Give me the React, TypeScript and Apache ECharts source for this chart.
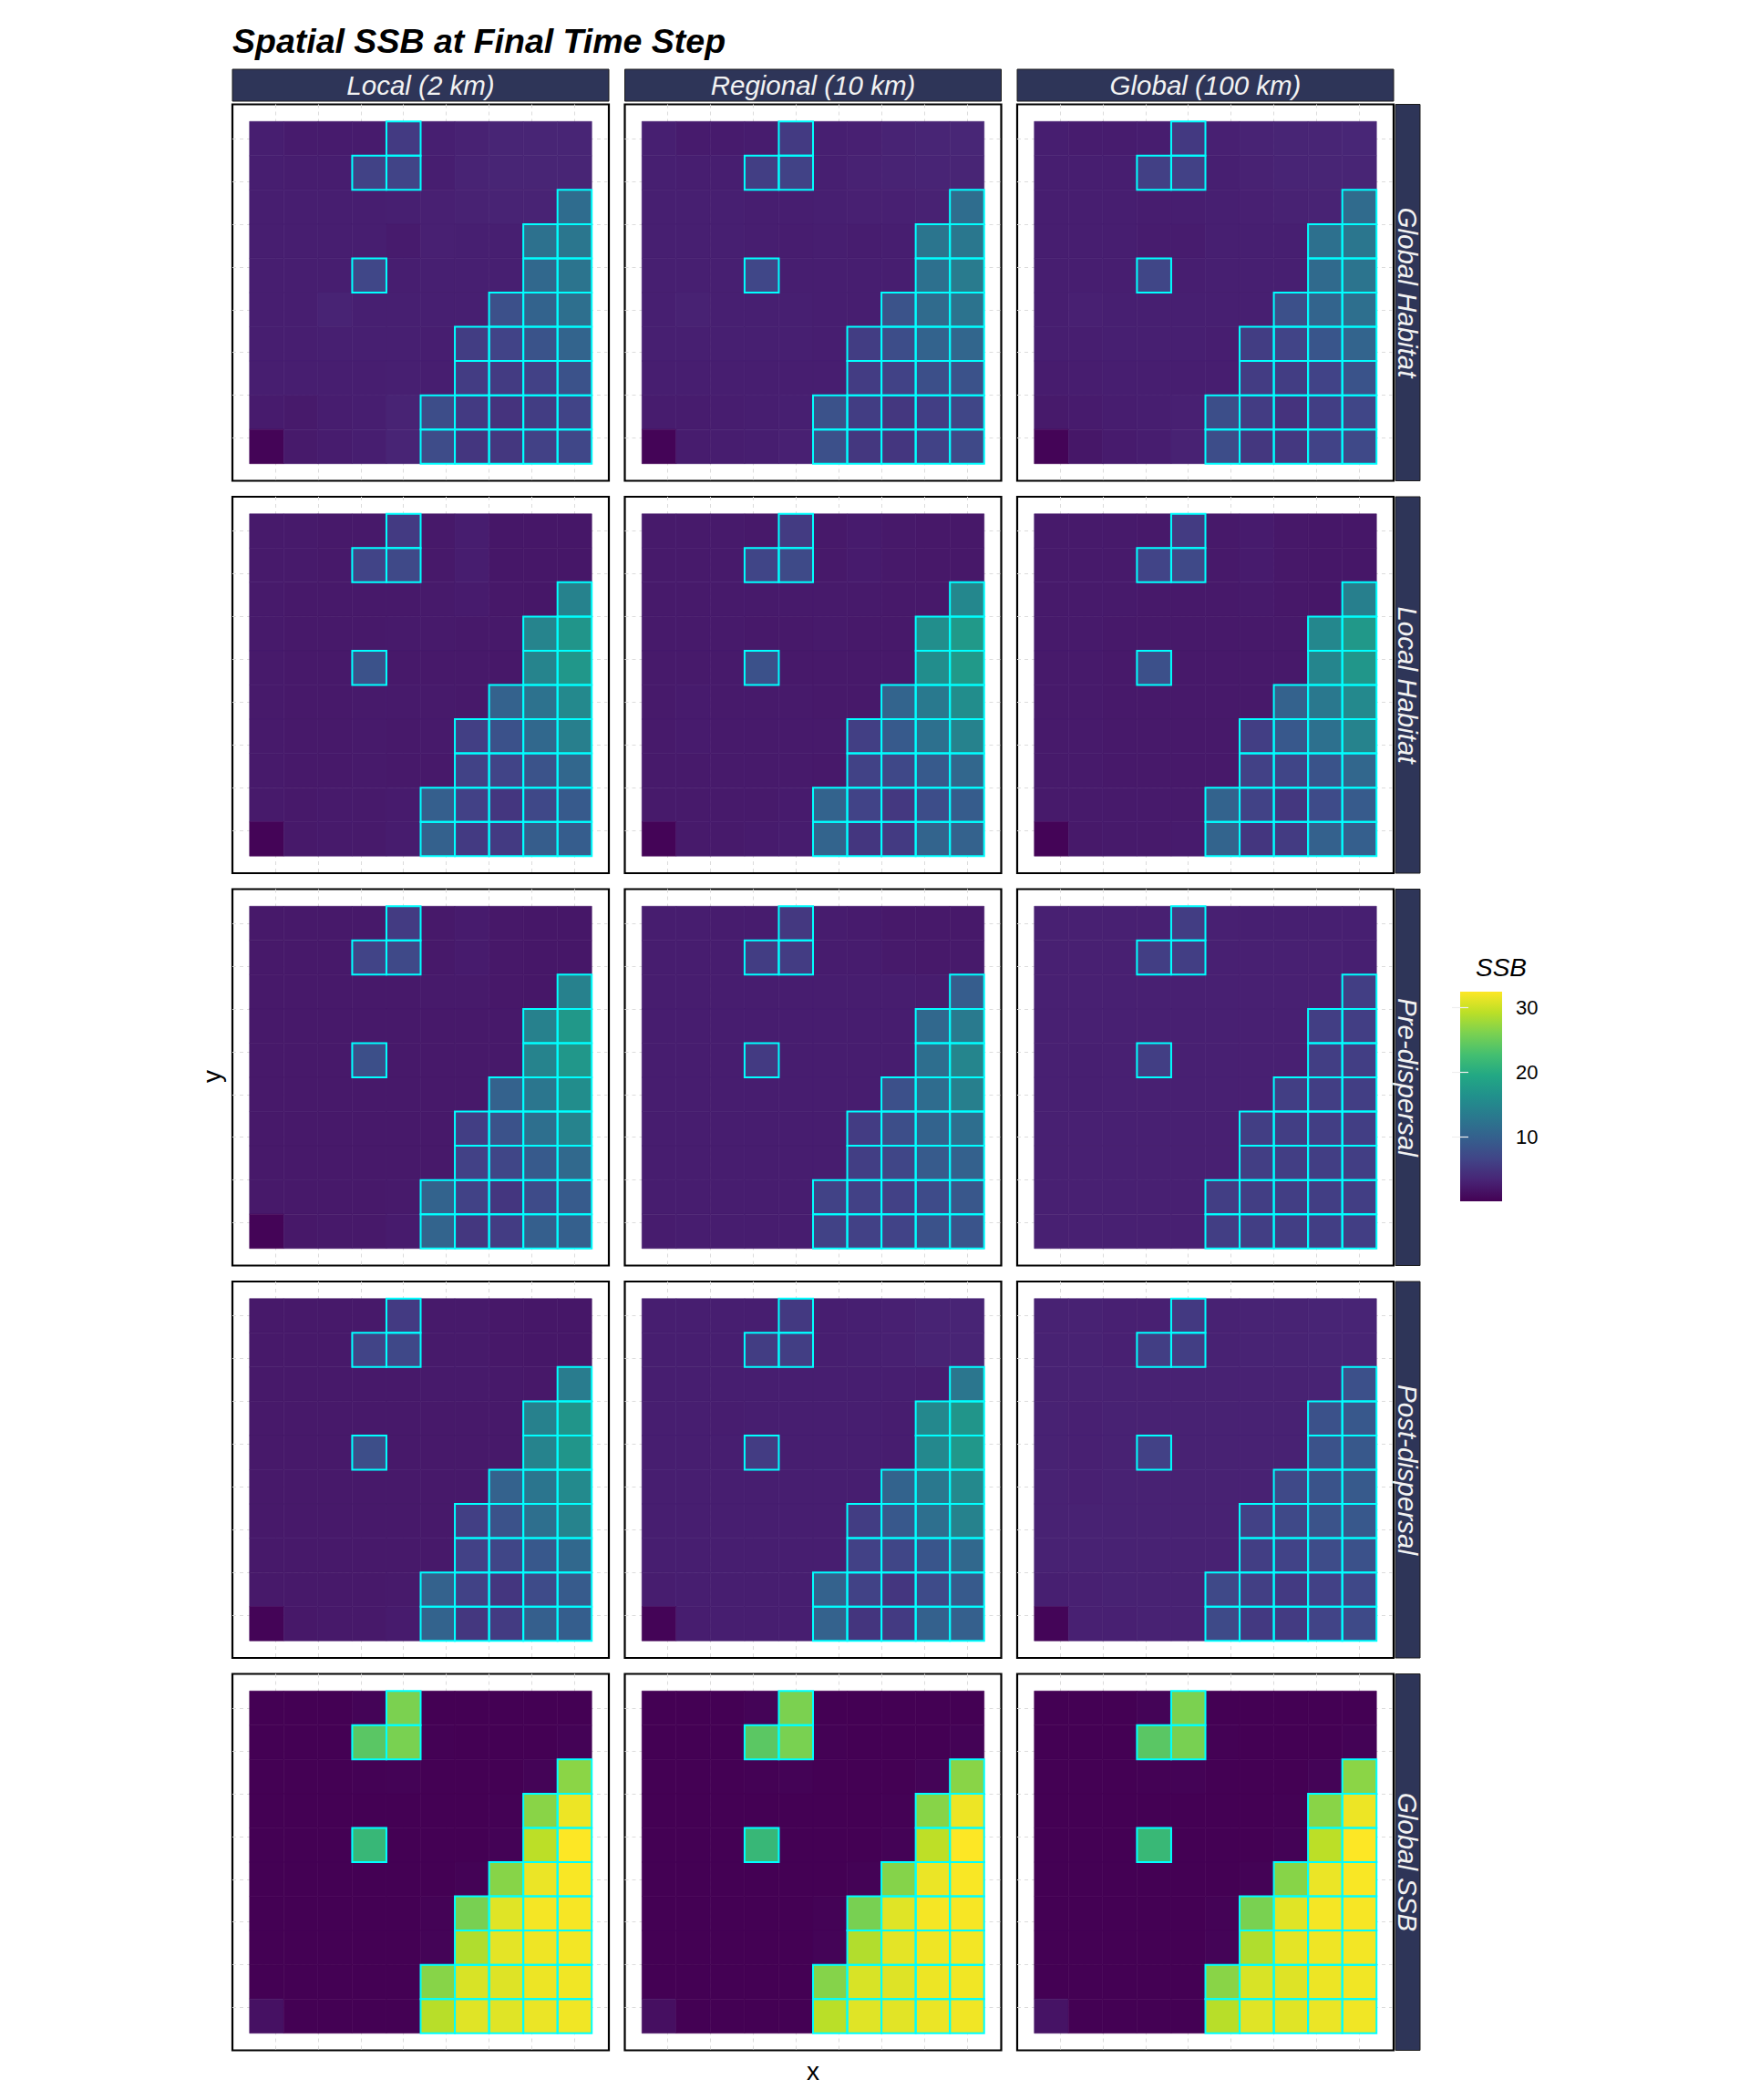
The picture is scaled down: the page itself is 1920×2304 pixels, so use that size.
import React, { useEffect, useRef } from "react";
import * as echarts from "echarts";

// ---------- labels ----------
const TITLE = "Spatial SSB at Final Time Step";
const COLUMN_LABELS = ["Local (2 km)", "Regional (10 km)", "Global (100 km)"];
const ROW_LABELS = ["Global Habitat", "Local Habitat", "Pre-dispersal", "Post-dispersal", "Global SSB"];
const LEGEND_TITLE = "SSB";
const LEGEND_TICKS = [10, 20, 30];
const SSB_MIN = 0.1;
const SSB_MAX = 32.4;
const GRID_BREAK = 1.25;

// habitat cells (top row y=10 first, x = 1..10)
const HABITAT = [
  "0000100000",
  "0001100000",
  "0000000001",
  "0000000011",
  "0001000011",
  "0000000111",
  "0000001111",
  "0000001111",
  "0000011111",
  "0000011111",
];

// ---------- SSB values per panel (top row y=10 first, x = 1..10) ----------
const GH_LOCAL = [
  [2.8, 2.5, 2.5, 2.5, 5.6, 2.9, 3.1, 3.4, 3.4, 3.4],
  [2.8, 2.7, 2.7, 6.4, 6.6, 2.8, 3.2, 3.4, 3.4, 3.4],
  [2.8, 2.8, 2.8, 2.8, 2.9, 3.0, 3.1, 3.2, 3.2, 11.5],
  [2.8, 2.8, 2.8, 2.8, 2.5, 3.0, 2.9, 2.9, 12.1, 12.8],
  [2.8, 2.8, 2.8, 6.9, 2.8, 2.9, 2.9, 2.9, 11.0, 12.5],
  [2.8, 2.8, 3.2, 2.9, 2.9, 2.9, 2.9, 8.0, 10.3, 11.8],
  [2.8, 2.8, 2.9, 2.9, 2.9, 2.8, 5.9, 6.5, 8.4, 10.4],
  [2.8, 2.8, 2.8, 2.8, 2.9, 2.8, 5.8, 5.7, 6.3, 8.2],
  [2.5, 2.4, 2.7, 2.8, 3.2, 7.6, 5.6, 4.8, 5.9, 6.6],
  [0.4, 2.4, 2.6, 2.8, 3.3, 7.5, 5.1, 5.2, 6.3, 6.9],
];
const GH_REGIONAL = [
  [2.9, 2.5, 2.5, 2.6, 5.6, 2.9, 3.0, 3.2, 3.4, 3.5],
  [2.9, 2.8, 2.8, 6.0, 6.4, 2.9, 3.1, 3.2, 3.3, 3.4],
  [2.9, 2.9, 2.9, 2.8, 2.8, 2.9, 3.0, 3.0, 3.1, 11.6],
  [2.9, 2.9, 2.9, 2.8, 2.7, 2.8, 2.7, 2.8, 12.6, 12.9],
  [2.9, 2.9, 2.9, 6.9, 2.8, 2.8, 2.8, 2.8, 12.0, 13.4],
  [2.9, 3.1, 2.9, 2.9, 2.9, 2.8, 2.8, 8.3, 11.3, 12.4],
  [2.9, 2.9, 2.9, 2.9, 2.9, 2.8, 5.9, 7.6, 10.3, 10.7],
  [2.8, 2.8, 2.8, 2.8, 2.8, 2.8, 5.8, 6.4, 7.9, 8.2],
  [2.6, 2.6, 2.7, 2.8, 2.9, 8.2, 5.9, 5.2, 6.0, 6.8],
  [0.4, 2.6, 2.7, 2.8, 3.0, 8.0, 5.2, 5.1, 6.4, 7.2],
];
const GH_GLOBAL = [
  [2.8, 2.6, 2.6, 2.7, 5.5, 3.0, 3.2, 3.4, 3.4, 3.5],
  [2.8, 2.8, 2.8, 6.2, 6.3, 2.9, 3.1, 3.3, 3.4, 3.4],
  [2.8, 2.8, 2.8, 2.7, 2.8, 2.9, 3.0, 3.1, 3.2, 11.3],
  [2.8, 2.8, 2.8, 2.6, 2.6, 2.9, 2.9, 2.9, 12.0, 12.8],
  [2.8, 2.8, 2.8, 6.8, 2.8, 2.9, 2.9, 2.9, 11.2, 12.5],
  [2.8, 3.0, 2.9, 2.9, 2.9, 2.9, 2.9, 8.0, 10.5, 11.8],
  [2.8, 2.8, 2.9, 2.9, 2.9, 2.8, 5.9, 6.6, 8.6, 10.5],
  [2.6, 2.7, 2.8, 2.8, 2.8, 2.8, 5.8, 5.9, 6.5, 8.4],
  [2.4, 2.5, 2.7, 2.8, 3.0, 7.8, 5.8, 4.8, 6.0, 6.8],
  [0.4, 2.1, 2.5, 2.7, 3.1, 7.6, 5.2, 5.3, 6.5, 7.2],
];
const LH_LOCAL = [
  [2.4, 2.4, 2.3, 2.3, 5.6, 2.3, 2.7, 2.1, 2.1, 2.1],
  [2.4, 2.4, 2.3, 6.6, 7.2, 2.3, 2.7, 2.1, 2.1, 2.1],
  [2.4, 2.3, 2.3, 2.3, 2.3, 2.4, 2.5, 2.2, 2.1, 14.3],
  [2.4, 2.3, 2.3, 2.3, 2.4, 2.4, 2.3, 2.3, 14.6, 16.9],
  [2.4, 2.3, 2.3, 8.2, 2.3, 2.3, 2.3, 2.2, 14.6, 17.2],
  [2.4, 2.3, 2.3, 2.4, 2.4, 2.4, 2.3, 10.2, 12.2, 15.3],
  [2.4, 2.3, 2.3, 2.4, 2.3, 2.4, 6.1, 8.1, 10.9, 13.9],
  [2.4, 2.3, 2.3, 2.4, 2.3, 2.3, 6.4, 6.6, 8.3, 10.8],
  [2.4, 2.3, 2.4, 2.4, 2.5, 9.8, 6.3, 5.1, 7.0, 9.2],
  [0.4, 2.3, 2.4, 2.4, 2.6, 10.0, 5.6, 5.6, 9.5, 9.6],
];
const LH_REGIONAL = [
  [2.4, 2.4, 2.4, 2.3, 5.7, 2.3, 2.5, 2.3, 2.2, 2.2],
  [2.4, 2.4, 2.4, 6.7, 7.3, 2.3, 2.5, 2.3, 2.2, 2.2],
  [2.4, 2.4, 2.4, 2.4, 2.4, 2.4, 2.4, 2.3, 2.3, 15.0],
  [2.4, 2.4, 2.4, 2.3, 2.3, 2.4, 2.3, 2.3, 16.0, 17.5],
  [2.4, 2.4, 2.4, 8.1, 2.3, 2.3, 2.3, 2.3, 15.8, 17.4],
  [2.4, 2.5, 2.4, 2.4, 2.4, 2.3, 2.3, 10.4, 13.2, 15.8],
  [2.4, 2.5, 2.4, 2.4, 2.4, 2.4, 6.1, 9.2, 12.0, 14.4],
  [2.4, 2.4, 2.4, 2.4, 2.4, 2.3, 6.4, 7.0, 9.2, 10.8],
  [2.4, 2.4, 2.4, 2.4, 2.5, 10.3, 6.5, 5.3, 7.6, 9.4],
  [0.4, 2.4, 2.4, 2.5, 2.6, 10.5, 5.1, 5.6, 10.4, 10.2],
];
const LH_GLOBAL = [
  [2.4, 2.4, 2.4, 2.3, 5.7, 2.3, 2.5, 2.2, 2.1, 2.1],
  [2.4, 2.4, 2.4, 6.6, 7.1, 2.3, 2.5, 2.2, 2.1, 2.1],
  [2.4, 2.4, 2.4, 2.3, 2.3, 2.3, 2.4, 2.2, 2.1, 14.0],
  [2.4, 2.4, 2.3, 2.3, 2.3, 2.3, 2.3, 2.3, 15.0, 17.3],
  [2.4, 2.4, 2.3, 8.0, 2.3, 2.3, 2.3, 2.3, 14.8, 17.0],
  [2.4, 2.4, 2.3, 2.3, 2.3, 2.3, 2.3, 10.2, 13.0, 15.3],
  [2.4, 2.4, 2.3, 2.3, 2.3, 2.3, 6.0, 9.0, 12.0, 14.5],
  [2.4, 2.4, 2.3, 2.3, 2.3, 2.3, 6.3, 6.7, 8.4, 10.8],
  [2.4, 2.4, 2.4, 2.4, 2.4, 10.3, 6.4, 5.2, 7.4, 9.3],
  [0.4, 2.3, 2.4, 2.4, 2.5, 10.4, 5.1, 5.7, 10.0, 9.8],
];
const PRE_LOCAL = [
  [2.3, 2.3, 2.3, 2.3, 5.7, 2.3, 2.5, 2.2, 2.1, 2.1],
  [2.3, 2.3, 2.3, 6.6, 7.1, 2.3, 2.5, 2.2, 2.1, 2.1],
  [2.3, 2.3, 2.3, 2.3, 2.3, 2.4, 2.4, 2.2, 2.1, 14.2],
  [2.3, 2.3, 2.3, 2.3, 2.3, 2.3, 2.3, 2.3, 14.2, 17.3],
  [2.3, 2.3, 2.3, 7.9, 2.3, 2.3, 2.3, 2.3, 14.5, 17.2],
  [2.3, 2.3, 2.3, 2.3, 2.3, 2.3, 2.3, 10.2, 12.7, 15.9],
  [2.3, 2.3, 2.3, 2.3, 2.3, 2.3, 6.0, 8.2, 11.8, 14.5],
  [2.3, 2.3, 2.3, 2.3, 2.3, 2.3, 6.3, 6.8, 9.2, 11.1],
  [2.3, 2.3, 2.3, 2.3, 2.4, 10.3, 6.4, 5.1, 7.4, 9.3],
  [0.4, 2.2, 2.3, 2.3, 2.5, 10.4, 5.2, 5.8, 9.8, 9.9],
];
const PRE_REGIONAL = [
  [2.7, 2.7, 2.6, 2.6, 5.3, 2.6, 2.5, 2.3, 2.3, 2.3],
  [2.7, 2.7, 2.7, 5.9, 5.8, 2.6, 2.6, 2.4, 2.3, 2.4],
  [2.7, 2.7, 2.7, 2.7, 2.7, 2.7, 2.7, 2.7, 2.6, 9.6],
  [2.7, 2.7, 2.7, 2.7, 2.7, 2.7, 2.7, 2.7, 11.0, 13.3],
  [2.7, 2.7, 2.7, 5.6, 2.7, 2.7, 2.7, 2.7, 11.7, 14.8],
  [2.7, 2.7, 2.7, 2.7, 2.7, 2.7, 2.7, 8.0, 11.5, 14.0],
  [2.7, 2.7, 2.7, 2.7, 2.7, 2.7, 5.8, 7.7, 10.3, 11.7],
  [2.7, 2.7, 2.7, 2.7, 2.7, 2.7, 6.0, 6.8, 9.3, 10.1],
  [2.7, 2.7, 2.7, 2.7, 2.7, 6.4, 6.3, 6.3, 7.4, 8.8],
  [2.6, 2.7, 2.7, 2.7, 2.7, 6.4, 6.3, 6.5, 8.2, 8.5],
];
const PRE_GLOBAL = [
  [3.0, 3.0, 3.0, 3.0, 5.9, 3.0, 2.9, 2.9, 2.9, 2.9],
  [3.0, 3.0, 3.0, 6.0, 6.0, 3.0, 3.0, 3.0, 3.0, 2.9],
  [3.0, 3.0, 3.0, 3.0, 3.0, 3.0, 3.0, 3.0, 3.0, 6.0],
  [3.0, 3.0, 3.0, 3.0, 3.0, 3.0, 3.0, 3.0, 6.0, 6.0],
  [3.0, 2.9, 3.0, 6.0, 3.0, 3.0, 3.0, 3.0, 6.0, 6.0],
  [3.0, 2.9, 3.0, 3.0, 3.0, 3.0, 3.0, 6.0, 6.0, 6.0],
  [3.0, 3.0, 3.0, 3.0, 3.0, 3.0, 6.0, 6.0, 6.0, 6.0],
  [3.0, 3.0, 3.0, 3.0, 3.0, 3.0, 6.0, 6.0, 6.0, 6.0],
  [3.0, 3.0, 3.0, 3.0, 3.0, 6.0, 6.0, 6.0, 6.0, 6.0],
  [3.0, 3.0, 3.0, 3.0, 3.0, 6.0, 6.0, 6.0, 6.0, 6.0],
];
const POST_LOCAL = [
  [2.3, 2.3, 2.3, 2.3, 5.6, 2.4, 2.4, 2.2, 2.1, 2.1],
  [2.3, 2.3, 2.3, 6.6, 7.0, 2.4, 2.4, 2.2, 2.1, 2.1],
  [2.3, 2.3, 2.3, 2.3, 2.3, 2.4, 2.4, 2.3, 2.2, 13.5],
  [2.3, 2.3, 2.3, 2.3, 2.3, 2.3, 2.3, 2.3, 14.2, 16.9],
  [2.3, 2.3, 2.3, 7.7, 2.3, 2.3, 2.3, 2.3, 14.5, 16.9],
  [2.3, 2.3, 2.3, 2.3, 2.3, 2.3, 2.3, 10.2, 12.6, 15.4],
  [2.3, 2.3, 2.3, 2.3, 2.3, 2.3, 6.1, 8.2, 11.8, 14.5],
  [2.3, 2.3, 2.3, 2.3, 2.3, 2.3, 6.3, 6.8, 9.0, 10.9],
  [2.3, 2.3, 2.3, 2.3, 2.4, 10.2, 6.4, 5.1, 7.4, 9.3],
  [0.4, 2.2, 2.3, 2.3, 2.5, 10.3, 5.2, 5.7, 9.8, 9.7],
];
const POST_REGIONAL = [
  [2.8, 2.8, 2.8, 2.8, 5.5, 2.8, 2.9, 3.0, 3.2, 3.3],
  [2.8, 2.8, 2.8, 5.9, 6.0, 2.8, 2.9, 3.0, 3.2, 3.3],
  [2.8, 2.8, 2.8, 2.8, 2.8, 2.8, 2.8, 2.8, 2.7, 12.8],
  [2.8, 2.8, 2.7, 2.8, 2.8, 2.8, 2.8, 2.7, 15.2, 16.9],
  [2.8, 2.8, 2.8, 5.8, 2.8, 2.8, 2.8, 2.7, 15.2, 17.2],
  [2.8, 2.8, 2.8, 2.8, 2.8, 2.8, 2.8, 10.3, 13.0, 15.3],
  [2.8, 2.8, 2.8, 2.8, 2.8, 2.8, 5.9, 9.0, 11.8, 14.3],
  [2.8, 2.8, 2.8, 2.8, 2.8, 2.8, 6.3, 6.8, 8.6, 11.0],
  [2.7, 2.8, 2.8, 2.8, 2.8, 10.2, 6.4, 5.1, 7.4, 9.2],
  [0.4, 2.7, 2.8, 2.8, 2.8, 10.2, 5.0, 5.6, 10.0, 9.9],
];
const POST_GLOBAL = [
  [3.1, 3.1, 3.0, 3.0, 5.5, 3.1, 3.2, 3.2, 3.3, 3.3],
  [3.1, 3.1, 3.0, 6.0, 6.0, 3.1, 3.2, 3.2, 3.3, 3.3],
  [3.1, 3.1, 3.1, 3.1, 3.1, 3.1, 3.1, 3.1, 3.2, 8.0],
  [3.1, 3.0, 3.1, 3.1, 3.1, 3.1, 3.1, 3.1, 8.1, 9.0],
  [3.1, 3.0, 3.1, 6.3, 3.1, 3.1, 3.1, 3.1, 8.2, 8.9],
  [3.1, 3.0, 3.1, 3.1, 3.1, 3.1, 3.1, 7.2, 8.4, 9.2],
  [3.1, 3.1, 3.1, 3.1, 3.1, 3.1, 6.3, 7.2, 8.3, 9.0],
  [3.1, 3.1, 3.1, 3.1, 3.1, 3.1, 6.0, 6.5, 7.5, 8.1],
  [2.9, 3.0, 3.1, 3.1, 3.1, 7.2, 6.1, 5.6, 6.3, 7.0],
  [0.5, 3.0, 3.0, 3.1, 3.1, 7.3, 5.5, 5.7, 6.6, 7.3],
];
const SSB_LOCAL = [
  [0.1, 0.1, 0.1, 0.4, 26.0, 0.1, 0.1, 0.1, 0.1, 0.1],
  [0.1, 0.1, 0.1, 24.0, 25.9, 0.2, 0.1, 0.1, 0.1, 0.3],
  [0.1, 0.1, 0.1, 0.2, 0.3, 0.1, 0.1, 0.1, 0.4, 26.8],
  [0.1, 0.1, 0.1, 0.1, 0.1, 0.1, 0.1, 0.2, 26.7, 31.6],
  [0.1, 0.1, 0.1, 21.6, 0.1, 0.1, 0.1, 0.3, 29.2, 32.4],
  [0.1, 0.1, 0.1, 0.1, 0.1, 0.1, 0.3, 26.6, 31.5, 32.2],
  [0.1, 0.1, 0.1, 0.1, 0.1, 0.3, 25.8, 31.0, 32.0, 32.1],
  [0.1, 0.1, 0.1, 0.1, 0.1, 0.4, 28.6, 31.2, 31.7, 31.9],
  [0.1, 0.1, 0.1, 0.1, 0.1, 26.6, 30.6, 30.9, 31.6, 31.8],
  [1.6, 0.1, 0.1, 0.1, 0.1, 29.0, 31.0, 31.0, 31.5, 31.8],
];
const SSB_REGIONAL = [
  [0.1, 0.1, 0.1, 0.4, 26.0, 0.1, 0.1, 0.1, 0.1, 0.1],
  [0.1, 0.1, 0.1, 24.1, 25.9, 0.2, 0.1, 0.1, 0.1, 0.3],
  [0.1, 0.1, 0.1, 0.2, 0.3, 0.1, 0.1, 0.1, 0.4, 26.7],
  [0.1, 0.1, 0.1, 0.1, 0.1, 0.1, 0.1, 0.2, 26.6, 31.6],
  [0.1, 0.1, 0.1, 21.6, 0.1, 0.1, 0.1, 0.3, 29.3, 32.4],
  [0.1, 0.1, 0.1, 0.1, 0.1, 0.1, 0.3, 26.5, 31.5, 32.2],
  [0.1, 0.1, 0.1, 0.1, 0.1, 0.3, 25.8, 31.0, 32.0, 32.1],
  [0.1, 0.1, 0.1, 0.1, 0.1, 0.4, 28.7, 31.2, 31.7, 31.9],
  [0.1, 0.1, 0.1, 0.1, 0.1, 26.5, 30.6, 30.9, 31.6, 31.8],
  [1.4, 0.1, 0.1, 0.1, 0.1, 29.1, 31.0, 31.1, 31.5, 31.8],
];
const SSB_GLOBAL = [
  [0.1, 0.1, 0.1, 0.4, 26.0, 0.1, 0.1, 0.1, 0.1, 0.1],
  [0.1, 0.1, 0.1, 24.0, 25.8, 0.2, 0.1, 0.1, 0.1, 0.3],
  [0.1, 0.1, 0.1, 0.2, 0.3, 0.1, 0.1, 0.1, 0.4, 26.8],
  [0.1, 0.1, 0.1, 0.1, 0.1, 0.1, 0.1, 0.2, 26.7, 31.6],
  [0.1, 0.1, 0.1, 21.7, 0.1, 0.1, 0.1, 0.3, 29.2, 32.4],
  [0.1, 0.1, 0.1, 0.1, 0.1, 0.1, 0.3, 26.6, 31.5, 32.2],
  [0.1, 0.1, 0.1, 0.1, 0.1, 0.3, 25.9, 31.0, 32.0, 32.1],
  [0.1, 0.1, 0.1, 0.1, 0.1, 0.4, 28.6, 31.2, 31.7, 31.9],
  [0.1, 0.1, 0.1, 0.1, 0.1, 26.7, 30.6, 30.9, 31.6, 31.8],
  [1.8, 0.1, 0.1, 0.1, 0.1, 29.0, 31.0, 31.0, 31.5, 31.8],
];

const PANELS = [
  [GH_LOCAL, GH_REGIONAL, GH_GLOBAL],
  [LH_LOCAL, LH_REGIONAL, LH_GLOBAL],
  [PRE_LOCAL, PRE_REGIONAL, PRE_GLOBAL],
  [POST_LOCAL, POST_REGIONAL, POST_GLOBAL],
  [SSB_LOCAL, SSB_REGIONAL, SSB_GLOBAL],
];

const VIRIDIS = [
  "#440154", "#482475", "#414487", "#355F8D", "#2A788E", "#21908C",
  "#22A884", "#44BF70", "#7AD151", "#BBDF27", "#FDE725",
];

// ---------- layout ----------
const FONT = "'Liberation Sans', Arial, Helvetica, sans-serif";
const PANEL_LEFT0 = 255;
const PANEL_TOP0 = 114.5;
const PANEL_SIZE = 413;
const PANEL_STEP = 430.5;
const STRIP_FILL = "#2e3558";

export default function App() {
  const ref = useRef<HTMLDivElement>(null);

  useEffect(() => {
    const chart = echarts.init(ref.current!, null, { renderer: "svg" });

    const grids: any[] = [];
    const xAxes: any[] = [];
    const yAxes: any[] = [];
    const fillSeries: any[] = [];
    const outlineSeries: any[] = [];
    const graphics: any[] = [];

    const habitatCells: number[][] = [];
    HABITAT.forEach((row, i) => {
      row.split("").forEach((ch, j) => {
        if (ch === "1") habitatCells.push([j + 1, 10 - i]);
      });
    });

    const tileRender = (withFill: boolean) => (params: any, api: any) => {
      const x = api.value(0) as number;
      const y = api.value(1) as number;
      const a = api.coord([x - 0.5, y + 0.5]);
      const b = api.coord([x + 0.5, y - 0.5]);
      const shape = { x: a[0], y: a[1], width: b[0] - a[0], height: b[1] - a[1] };
      if (withFill) {
        const color = api.visual("color");
        return { type: "rect", shape, style: { fill: color, stroke: color, lineWidth: 0.6 } };
      }
      return { type: "rect", shape, style: { fill: "none", stroke: "#00ffff", lineWidth: 2 } };
    };

    const gridAxis = (gridIndex: number) => ({
      type: "value",
      gridIndex,
      min: 0,
      max: 11,
      interval: GRID_BREAK,
      axisLine: { show: false },
      axisTick: { show: false },
      axisLabel: { show: false },
      splitLine: {
        show: true,
        showMinLine: false,
        showMaxLine: false,
        lineStyle: { color: "#dcdcdc", width: 1, type: [4, 4] },
      },
    });

    PANELS.forEach((rowPanels, r) => {
      rowPanels.forEach((values, c) => {
        const idx = r * 3 + c;
        grids.push({
          left: PANEL_LEFT0 + c * PANEL_STEP,
          top: PANEL_TOP0 + r * PANEL_STEP,
          width: PANEL_SIZE,
          height: PANEL_SIZE,
          show: true,
          backgroundColor: "#ffffff",
          borderColor: "#000000",
          borderWidth: 2.2,
        });
        xAxes.push(gridAxis(idx));
        yAxes.push(gridAxis(idx));
        const data: number[][] = [];
        values.forEach((row, i) => row.forEach((v, j) => data.push([j + 1, 10 - i, v])));
        fillSeries.push({
          type: "custom",
          xAxisIndex: idx,
          yAxisIndex: idx,
          silent: true,
          encode: { x: 0, y: 1 },
          data,
          renderItem: tileRender(true),
          z: 2,
        });
        outlineSeries.push({
          type: "custom",
          xAxisIndex: idx,
          yAxisIndex: idx,
          silent: true,
          encode: { x: 0, y: 1 },
          data: habitatCells,
          renderItem: tileRender(false),
          z: 3,
        });
      });
    });

    // column strips
    COLUMN_LABELS.forEach((label, c) => {
      const x = PANEL_LEFT0 + c * PANEL_STEP;
      graphics.push({
        type: "rect",
        shape: { x, y: 76, width: PANEL_SIZE, height: 35 },
        style: { fill: STRIP_FILL, stroke: "#1c1c1c", lineWidth: 1 },
      });
      graphics.push({
        type: "text",
        x: x + PANEL_SIZE / 2,
        y: 93.5,
        style: {
          text: label,
          fontSize: 29.5,
          fontStyle: "italic",
          fontFamily: FONT,
          fill: "#f2f2f2",
          align: "center",
          verticalAlign: "middle",
        },
      });
    });

    // row strips
    ROW_LABELS.forEach((label, r) => {
      const y = PANEL_TOP0 + r * PANEL_STEP;
      graphics.push({
        type: "rect",
        shape: { x: 1531, y, width: 27, height: PANEL_SIZE },
        style: { fill: STRIP_FILL, stroke: "#1c1c1c", lineWidth: 1 },
      });
      graphics.push({
        type: "text",
        x: 1544.5,
        y: y + PANEL_SIZE / 2,
        rotation: -Math.PI / 2,
        style: {
          text: label,
          fontSize: 29.5,
          fontStyle: "italic",
          fontFamily: FONT,
          fill: "#f2f2f2",
          align: "center",
          verticalAlign: "middle",
        },
      });
    });

    // title
    graphics.push({
      type: "text",
      x: 255,
      y: 45,
      style: {
        text: TITLE,
        fontSize: 37.5,
        fontStyle: "italic",
        fontWeight: "bold",
        fontFamily: FONT,
        fill: "#000",
        align: "left",
        verticalAlign: "middle",
      },
    });
    // axis titles
    graphics.push({
      type: "text",
      x: 892,
      y: 2272,
      style: { text: "x", fontSize: 28, fontFamily: FONT, fill: "#000", align: "center", verticalAlign: "middle" },
    });
    graphics.push({
      type: "text",
      x: 232,
      y: 1181,
      rotation: Math.PI / 2,
      style: { text: "y", fontSize: 28, fontFamily: FONT, fill: "#000", align: "center", verticalAlign: "middle" },
    });
    // legend title
    graphics.push({
      type: "text",
      x: 1619,
      y: 1061,
      style: {
        text: LEGEND_TITLE,
        fontSize: 28,
        fontStyle: "italic",
        fontFamily: FONT,
        fill: "#000",
        align: "left",
        verticalAlign: "middle",
      },
    });

    // legend colour bar grid
    const legendGrid = grids.length;
    grids.push({ left: 1602, top: 1088, width: 46, height: 230, show: false });
    xAxes.push({ type: "value", gridIndex: legendGrid, min: 0, max: 1, show: false });
    const legendAxisBase = {
      type: "value",
      gridIndex: legendGrid,
      min: SSB_MIN,
      max: SSB_MAX,
      z: 10,
      axisLine: { show: false },
      splitLine: { show: false },
      axisTick: {
        show: true,
        inside: true,
        length: 9,
        customValues: LEGEND_TICKS,
        lineStyle: { color: "#eeeeee", width: 1.2 },
      },
    };
    yAxes.push({
      ...legendAxisBase,
      position: "right",
      axisLabel: {
        show: true,
        customValues: LEGEND_TICKS,
        margin: 15,
        fontSize: 22,
        fontFamily: FONT,
        color: "#000",
      },
    });
    yAxes.push({ ...legendAxisBase, position: "left", axisLabel: { show: false } });

    const legendSeries = {
      type: "custom",
      xAxisIndex: legendGrid,
      yAxisIndex: legendGrid,
      silent: true,
      data: [[0, SSB_MIN]],
      renderItem: (params: any, api: any) => {
        const a = api.coord([0, SSB_MAX]);
        const b = api.coord([1, SSB_MIN]);
        return {
          type: "rect",
          shape: { x: a[0], y: a[1], width: b[0] - a[0], height: b[1] - a[1] },
          style: {
            fill: new echarts.graphic.LinearGradient(
              0, 1, 0, 0,
              VIRIDIS.map((color, i) => ({ offset: i / (VIRIDIS.length - 1), color }))
            ),
          },
        };
      },
      z: 2,
    };

    const option: any = {
      animation: false,
      backgroundColor: "#ffffff",
      grid: grids,
      xAxis: xAxes,
      yAxis: yAxes,
      visualMap: {
        type: "continuous",
        show: false,
        min: SSB_MIN,
        max: SSB_MAX,
        dimension: 2,
        seriesIndex: fillSeries.map((_, i) => i),
        inRange: { color: VIRIDIS },
      },
      series: [...fillSeries, ...outlineSeries, legendSeries],
      graphic: graphics,
    };

    chart.setOption(option);
    return () => chart.dispose();
  }, []);

  return (
    <div
      ref={ref}
      style={{ position: "absolute", left: 0, top: 0, width: 1920, height: 2304, background: "#fff" }}
    />
  );
}
